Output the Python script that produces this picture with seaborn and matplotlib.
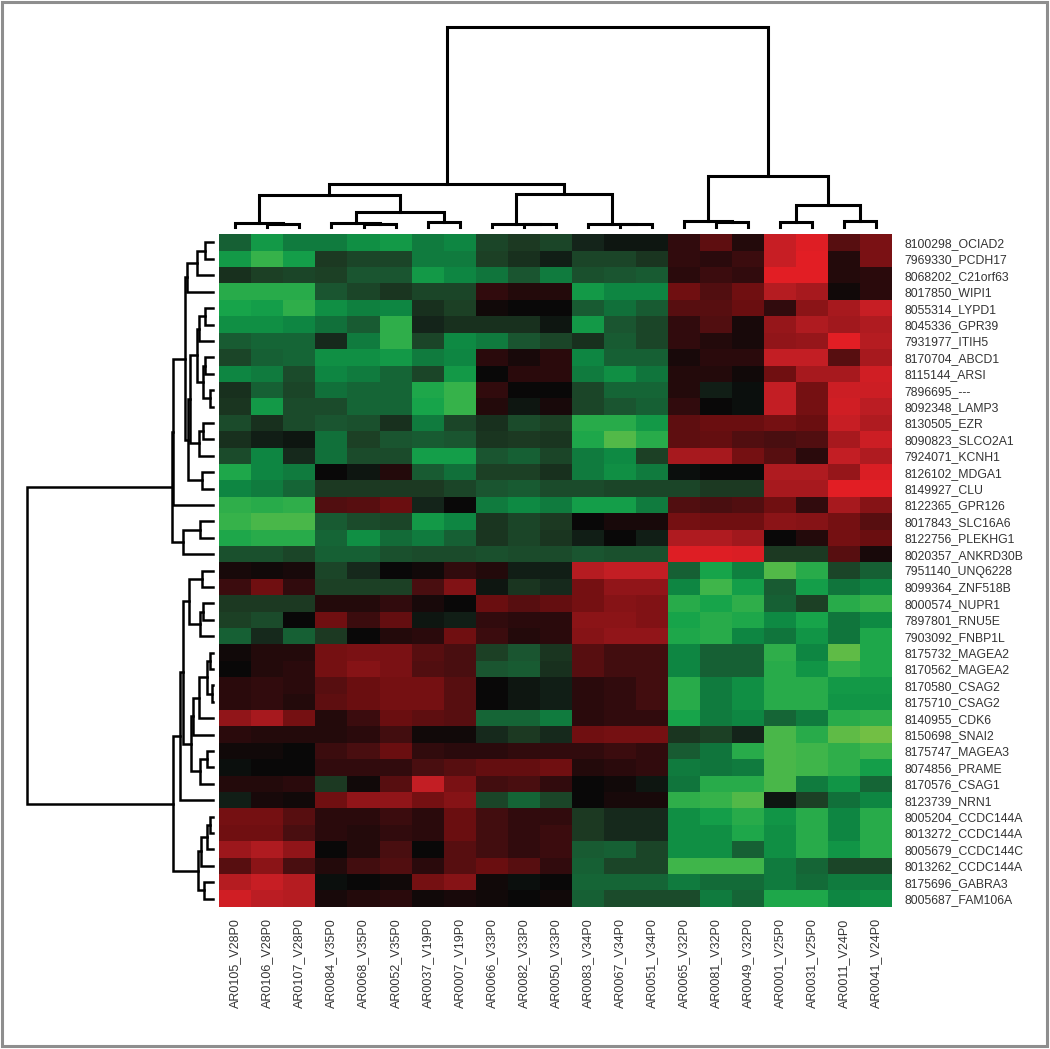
import numpy as np
import pandas as pd
import matplotlib
matplotlib.use("Agg")
import matplotlib.pyplot as plt
import seaborn as sns
from matplotlib.colors import LinearSegmentedColormap
from matplotlib.patches import Rectangle

sns.set_style("white")
plt.rcParams['font.family'] = ['Liberation Sans', 'DejaVu Sans']

# ---------------- data ----------------
col_labels = ["AR0105_V28P0", "AR0106_V28P0", "AR0107_V28P0", "AR0084_V35P0", "AR0068_V35P0",
              "AR0052_V35P0", "AR0037_V19P0", "AR0007_V19P0", "AR0066_V33P0", "AR0082_V33P0",
              "AR0050_V33P0", "AR0083_V34P0", "AR0067_V34P0", "AR0051_V34P0", "AR0065_V32P0",
              "AR0081_V32P0", "AR0049_V32P0", "AR0001_V25P0", "AR0031_V25P0", "AR0011_V24P0",
              "AR0041_V24P0"]

row_labels = ["8100298_OCIAD2", "7969330_PCDH17", "8068202_C21orf63", "8017850_WIPI1",
              "8055314_LYPD1", "8045336_GPR39", "7931977_ITIH5", "8170704_ABCD1", "8115144_ARSI",
              "7896695_---", "8092348_LAMP3", "8130505_EZR", "8090823_SLCO2A1", "7924071_KCNH1",
              "8126102_MDGA1", "8149927_CLU", "8122365_GPR126", "8017843_SLC16A6",
              "8122756_PLEKHG1", "8020357_ANKRD30B", "7951140_UNQ6228", "8099364_ZNF518B",
              "8000574_NUPR1", "7897801_RNU5E", "7903092_FNBP1L", "8175732_MAGEA2",
              "8170562_MAGEA2", "8170580_CSAG2", "8175710_CSAG2", "8140955_CDK6", "8150698_SNAI2",
              "8175747_MAGEA3", "8074856_PRAME", "8170576_CSAG1", "8123739_NRN1",
              "8005204_CCDC144A", "8013272_CCDC144A", "8005679_CCDC144C", "8013262_CCDC144A",
              "8175696_GABRA3", "8005687_FAM106A"]

values = [
    [-1.5, -2.6, -2.0, -2.0, -2.4, -2.6, -2.0, -2.2, -1.0, -0.8, -1.0, -0.4, -0.2, -0.2, 0.5, 1.1, 0.3, 2.9, 3.4, 1.0, 1.6],
    [-2.6, -3.2, -2.7, -0.8, -1.0, -1.0, -2.0, -2.0, -0.9, -0.6, -0.3, -1.0, -1.0, -0.7, 0.5, 0.4, 0.6, 2.9, 3.5, 0.3, 1.6],
    [-0.6, -0.9, -1.0, -0.9, -1.3, -1.3, -2.6, -2.2, -1.9, -1.3, -2.0, -1.2, -1.3, -1.4, 0.4, 0.6, 0.5, 3.5, 3.5, 0.3, 0.4],
    [-3.0, -3.0, -3.0, -1.3, -1.0, -0.7, -1.0, -1.0, 0.5, 0.3, 0.3, -2.6, -2.2, -2.2, 1.4, 0.9, 1.4, 2.6, 2.4, 0.1, 0.4],
    [-2.8, -2.7, -3.1, -2.4, -2.1, -2.2, -0.6, -0.9, 0.1, 0.0, 0.0, -1.4, -1.8, -1.4, 1.0, 1.0, 1.3, 0.5, 1.9, 2.4, 2.9],
    [-2.4, -2.4, -2.2, -1.8, -1.4, -3.1, -0.4, -0.6, -0.6, -0.6, -0.2, -2.6, -1.3, -1.0, 0.5, 0.9, 0.2, 2.1, 2.5, 2.3, 2.5],
    [-1.4, -1.6, -1.6, -0.5, -2.0, -3.1, -1.0, -2.3, -2.0, -1.3, -1.0, -0.6, -1.4, -1.0, 0.5, 0.3, 0.2, 2.0, 2.1, 3.5, 2.6],
    [-1.0, -1.5, -1.6, -2.4, -2.4, -2.6, -2.0, -2.2, 0.4, 0.2, 0.4, -2.2, -1.5, -1.5, 0.2, 0.4, 0.4, 2.8, 2.8, 1.0, 2.4],
    [-2.2, -2.0, -1.1, -2.2, -2.0, -1.6, -1.0, -2.6, 0.0, 0.4, 0.4, -2.0, -2.4, -1.9, 0.3, 0.3, 0.1, 1.4, 2.4, 2.4, 3.1],
    [-0.6, -1.5, -1.0, -1.8, -1.6, -1.6, -2.9, -3.2, 0.5, 0.0, 0.0, -1.0, -1.6, -1.6, 0.3, -0.3, -0.1, 2.8, 1.5, 3.0, 3.0],
    [-0.7, -2.6, -1.1, -1.1, -1.6, -1.6, -2.8, -3.2, 0.3, -0.2, 0.2, -1.0, -1.3, -1.5, 0.5, 0.0, -0.1, 2.8, 1.5, 3.1, 2.7],
    [-1.1, -0.6, -1.1, -1.3, -1.2, -0.6, -2.0, -1.0, -0.6, -1.1, -0.9, -3.0, -3.0, -2.6, 1.1, 1.3, 1.3, 1.5, 1.3, 2.9, 2.5],
    [-0.6, -0.3, -0.2, -1.8, -0.9, -1.3, -1.4, -1.3, -0.7, -0.8, -0.7, -2.9, -3.5, -3.0, 1.1, 1.2, 0.9, 0.8, 0.9, 2.4, 3.0],
    [-1.1, -2.2, -0.5, -1.8, -1.1, -1.1, -2.7, -2.7, -1.3, -1.5, -1.0, -2.0, -2.3, -0.9, 2.4, 2.4, 1.5, 1.0, 0.4, 2.8, 2.5],
    [-2.9, -2.2, -2.0, 0.0, -0.2, 0.3, -1.4, -1.8, -0.9, -0.9, -0.6, -2.0, -2.4, -2.0, -0.1, 0.0, 0.0, 2.5, 2.5, 2.1, 3.3],
    [-2.2, -2.0, -1.6, -0.8, -0.8, -0.8, -0.8, -1.0, -1.3, -1.4, -1.1, -1.1, -1.0, -1.0, -1.0, -0.8, -0.8, 2.4, 2.4, 3.5, 3.5],
    [-3.1, -3.0, -3.1, 0.9, 1.0, 1.3, -0.4, 0.0, -2.0, -2.3, -2.0, -2.7, -2.7, -2.0, 0.9, 0.8, 0.9, 1.4, 0.5, 2.4, 1.8],
    [-3.2, -3.4, -3.4, -1.4, -1.1, -1.0, -2.6, -2.2, -0.7, -1.0, -0.8, 0.0, 0.2, 0.2, 1.5, 1.4, 1.4, 1.9, 1.8, 1.5, 1.0],
    [-2.9, -3.0, -3.0, -1.6, -2.4, -1.7, -2.0, -1.5, -0.7, -1.0, -0.7, -0.3, 0.0, -0.3, 2.5, 2.5, 2.3, 0.0, 0.3, 1.5, 1.3],
    [-1.2, -1.2, -1.0, -1.5, -1.5, -1.2, -1.1, -1.1, -1.2, -1.1, -1.1, -1.3, -1.2, -1.2, 3.4, 3.4, 3.3, -0.8, -0.8, 1.0, 0.2],
    [0.2, 0.1, 0.2, -1.0, -0.5, 0.0, 0.1, 0.5, 0.3, -0.3, -0.3, 2.6, 2.8, 2.8, -1.5, -2.8, -2.1, -3.5, -3.0, -1.0, -1.5],
    [0.6, 1.4, 0.5, -0.9, -0.9, -0.9, 0.8, 1.7, -0.2, -0.7, -0.5, 1.5, 2.0, 2.0, -2.2, -3.3, -2.7, -1.4, -2.7, -1.9, -2.2],
    [-0.8, -0.8, -0.8, 0.3, 0.3, 0.5, 0.2, 0.0, 1.3, 1.0, 1.2, 1.5, 1.8, 1.7, -3.0, -2.8, -3.1, -1.5, -0.9, -3.0, -3.2],
    [-0.9, -1.1, 0.0, 1.4, 0.6, 1.2, -0.2, -0.3, 0.5, 0.4, 0.4, 1.9, 1.9, 1.7, -2.8, -3.0, -2.9, -2.3, -2.8, -1.9, -2.3],
    [-1.5, -0.5, -1.5, -0.8, 0.0, 0.3, 0.4, 1.4, 0.6, 0.3, 0.4, 1.8, 2.0, 2.0, -2.9, -3.0, -2.2, -1.9, -2.5, -1.9, -2.9],
    [0.1, 0.3, 0.3, 1.5, 1.6, 1.6, 1.0, 0.8, -0.9, -1.3, -0.7, 1.0, 0.7, 0.7, -2.2, -1.5, -1.5, -3.1, -2.2, -3.6, -2.9],
    [0.0, 0.3, 0.4, 1.5, 1.8, 1.6, 0.9, 0.8, -1.3, -1.4, -0.6, 1.0, 0.7, 0.7, -2.2, -1.5, -1.5, -3.0, -2.5, -3.1, -2.9],
    [0.4, 0.5, 0.4, 1.0, 1.3, 1.5, 1.5, 1.0, 0.0, -0.2, -0.3, 0.4, 0.5, 0.7, -3.0, -2.0, -2.4, -3.0, -3.0, -2.6, -2.6],
    [0.4, 0.5, 0.3, 1.1, 1.3, 1.5, 1.5, 1.0, 0.0, -0.2, -0.3, 0.4, 0.5, 0.7, -3.0, -2.0, -2.4, -3.0, -3.0, -2.5, -2.5],
    [2.0, 2.4, 1.5, 0.3, 0.6, 1.3, 1.1, 1.0, -1.6, -1.6, -2.0, 0.4, 0.5, 0.5, -2.8, -2.0, -2.2, -1.6, -2.0, -3.0, -3.1],
    [0.4, 0.3, 0.3, 0.3, 0.4, 0.7, 0.1, 0.1, -0.5, -0.8, -0.5, 1.4, 1.5, 1.5, -0.7, -0.9, -0.4, -3.4, -3.0, -3.6, -3.8],
    [0.1, 0.1, 0.0, 0.6, 0.8, 1.3, 0.5, 0.4, 0.4, 0.5, 0.5, 0.5, 0.6, 0.5, -1.4, -1.9, -3.0, -3.4, -3.3, -3.1, -3.3],
    [-0.1, 0.0, 0.0, 0.5, 0.5, 0.5, 0.8, 1.0, 1.2, 1.2, 1.4, 0.3, 0.4, 0.5, -2.0, -1.9, -2.0, -3.4, -3.3, -3.1, -2.7],
    [0.3, 0.3, 0.4, -0.8, 0.1, 1.0, 2.8, 1.6, 0.7, 0.8, 0.5, 0.0, 0.1, -0.2, -1.9, -3.0, -3.0, -3.4, -2.0, -2.5, -1.6],
    [-0.3, 0.2, 0.1, 1.4, 2.0, 2.0, 1.5, 1.8, -1.0, -1.6, -1.0, 0.0, 0.2, 0.2, -3.1, -3.2, -3.5, -0.2, -0.9, -1.8, -2.2],
    [1.5, 1.5, 1.0, 0.4, 0.4, 0.6, 0.4, 1.3, 0.7, 0.5, 0.5, -0.8, -0.5, -0.5, -2.4, -2.7, -3.0, -2.5, -3.0, -2.2, -3.0],
    [1.4, 1.4, 0.8, 0.4, 0.3, 0.5, 0.4, 1.3, 0.7, 0.5, 0.6, -0.8, -0.5, -0.5, -2.4, -2.4, -2.9, -2.4, -3.0, -2.2, -3.0],
    [2.2, 2.5, 2.0, 0.0, 0.3, 0.8, 0.0, 1.0, 0.7, 0.5, 0.6, -1.4, -1.5, -1.0, -2.4, -2.4, -1.5, -2.4, -3.0, -2.5, -3.0],
    [1.0, 1.9, 0.8, 0.3, 0.7, 0.9, 0.4, 1.0, 1.3, 1.0, 0.5, -1.5, -1.0, -1.0, -3.3, -3.3, -3.3, -2.0, -1.6, -1.0, -1.0],
    [2.6, 2.9, 2.6, -0.1, 0.0, 0.1, 1.5, 1.8, 0.1, -0.1, 0.0, -1.6, -1.6, -1.6, -2.0, -1.7, -1.7, -2.0, -1.7, -2.0, -2.0],
    [3.1, 2.7, 2.6, 0.2, 0.3, 0.4, 0.1, 0.2, 0.1, 0.0, 0.1, -1.5, -1.1, -1.1, -1.1, -2.0, -1.6, -2.9, -2.9, -2.2, -2.4],
]

# dendrogram merges: (left, right, merge height); leaves are column / row indices
col_tree = (
    (
        ((0, (1, 2, 3.0), 4.0), ((3, (4, 5, 3.0), 4.0), (6, 7, 4.5), 14.4), 31.4),
        ((8, (9, 10, 2.5), 3.0), (11, (12, 13, 2.5), 3.0), 32.7),
        42.4,
    ),
    ((14, (15, 16, 5.0), 6.0), ((17, 18, 5.0), (19, 20, 6.0), 21.7), 51.0),
    199.4,
)

row_A = (((0, 1, 8.3), 2, 16.6), 3, 26.0)
row_B = (((4, 5, 8.3), 6, 14.0), ((7, 8, 8.3), (9, 10, 3.3), 10.6), 16.6)
row_BC = (((row_B, ((11, 12, 10.0), 13, 14.0), 23.0)), (14, 15, 11.6), 25.0)
row_top = (((row_A, row_BC, 28.5), 16, 40.8), ((17, 18, 13.3), 19, 30.0), 41.6)
row_E = ((20, 21, 11.6), ((22, 23, 10.8), 24, 13.3), 24.0)
row_F = (((((25, 26, 3.3), (27, 28, 1.8), 6.8), 29, 14.0), 30, 20.0), ((31, 32, 6.8), 33, 13.3), 22.0)
row_H = ((((35, 36, 3.0), 37, 6.0), 38, 12.0), (39, 40, 9.0), 15.0)
row_bottom = ((((row_E, row_F, 30.0)), 34, 33.3), row_H, 40.0)
row_tree = (row_top, row_bottom, 186.6)

# ---------------- colours ----------------
cmap_vals = [-3.8, -3.3, -2.8, -2.3, -1.8, -1.3, -0.8, -0.4, 0.0, 0.4, 0.8, 1.3, 1.8, 2.3, 2.8, 3.8]
cmap_cols = ["#72BF44", "#3DB54A", "#16A34A", "#0E8A43", "#11703A", "#1A5530", "#1C3A22", "#14241A",
             "#080808", "#2A0A0C", "#4A0E10", "#6A0E10", "#861316", "#A0181D", "#C21E24", "#F01E24"]
vmin, vmax = -3.8, 3.8
cmap = LinearSegmentedColormap.from_list(
    "gkr", [((v - vmin) / (vmax - vmin), c) for v, c in zip(cmap_vals, cmap_cols)])

df = pd.DataFrame(values, index=row_labels, columns=col_labels)

# ---------------- figure ----------------
W, H = 1050, 1049
fig = plt.figure(figsize=(W / 100, H / 100), dpi=100)
fig.patch.set_facecolor("white")


def fax(l, t, r, b):
    return fig.add_axes([l / W, 1 - b / H, (r - l) / W, (b - t) / H])


hm_ax = fax(219.3, 234.3, 892.3, 906.7)
sns.heatmap(df, ax=hm_ax, cmap=cmap, vmin=vmin, vmax=vmax, cbar=False,
            xticklabels=col_labels, yticklabels=row_labels)
hm_ax.set_xlabel("")
hm_ax.set_ylabel("")
hm_ax.yaxis.tick_right()
hm_ax.tick_params(axis="both", length=0)
hm_ax.tick_params(axis="x", pad=8.4, labelsize=9, labelcolor="#333333", labelrotation=90)
hm_ax.tick_params(axis="y", pad=9.0, labelsize=8.8, labelcolor="#333333", labelrotation=0)


def segments(node, out):
    if isinstance(node, int):
        return node + 0.5, 0.0
    a, b, h = node
    pa, ha = segments(a, out)
    pb, hb = segments(b, out)
    out.append(((pa, pa, pb, pb), (ha, h, h, hb)))
    return (pa + pb) / 2, h


# column dendrogram
col_segs = []
segments(col_tree, col_segs)
col_ax = fax(219.3, 27.3, 892.3, 226.7)
for pos, hts in col_segs:
    col_ax.plot(pos, hts, color="black", lw=2.2, clip_on=False,
                solid_joinstyle="miter", solid_capstyle="projecting")
col_ax.set_xlim(0, len(col_labels))
col_ax.set_ylim(0, col_tree[2])
col_ax.axis("off")

# row dendrogram
row_segs = []
segments(row_tree, row_segs)
row_ax = fax(26.7, 234.3, 213.3, 906.7)
for pos, hts in row_segs:
    row_ax.plot(hts, pos, color="black", lw=1.8, clip_on=False,
                solid_joinstyle="miter", solid_capstyle="projecting")
row_ax.set_ylim(len(row_labels), 0)
row_ax.set_xlim(row_tree[2], 0)
row_ax.axis("off")

# grey frame round the picture
fig.add_artist(Rectangle((1.5 / W, 1 - 1045.7 / H), (1047 - 1.5) / W, (1045.7 - 1.5) / H,
                         transform=fig.transFigure, fill=False, edgecolor="#8e8e8e", lw=2.2))

fig.savefig("out.png", dpi=100)
